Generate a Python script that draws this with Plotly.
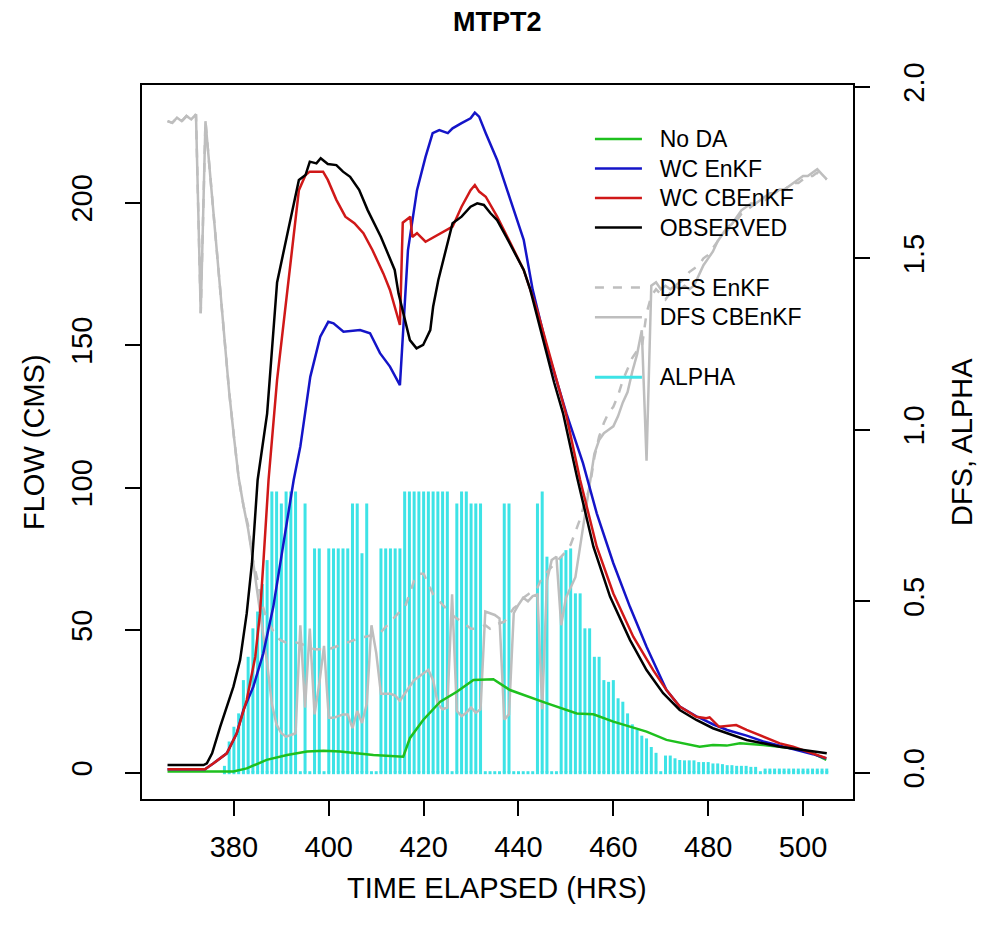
import plotly.graph_objects as go

# ---------------- data ----------------
t_obs = [366, 370, 373.6, 374.3, 375.4, 377.1, 379.9, 381.3, 382.7, 383.8, 384.5, 385.0, 387.0, 388.3,
         389.1, 391.3, 393.7, 395.1, 396.0, 397.4, 398.3, 399.8, 401.6, 403.0, 404.5, 406.4, 408.2,
         411.0, 413.9, 414.7, 415.7, 417.1, 418.5, 419.9, 421.4, 422.0, 423.1, 426.1, 428.0, 429.9,
         431.3, 432.7, 434.1, 435.5, 437.4, 439.3, 441.1, 442.5, 445, 447.5, 449.4, 452.3, 455.8,
         459.3, 463.5, 467.0, 470.5, 474.0, 477.5, 481.0, 488.1, 495.1, 505]
q_obs = [2.7, 2.7, 2.7, 3.3, 6.8, 16.1, 30.2, 39.5, 55.9, 73.5, 91, 102.7, 126, 155.3,
         172, 189.3, 208, 209.7, 214.4, 213.8, 215.6, 213.6, 213.2, 210.9, 209.1, 204.5, 197.4,
         188, 176.4, 168.2, 161.2, 151.8, 148.9, 150.1, 155.3, 163.5, 172.9, 192.8, 195.1, 198.6,
         199.8, 199.2, 196.3, 193.9, 188.1, 182.2, 176.4, 169.4, 153, 137, 126.1, 104, 79.3,
         61.8, 46.6, 36, 27.9, 22, 18.5, 15.6, 11.5, 9.1, 6.8]

t_cb = [366, 373.9, 375.7, 378.5, 380.6, 382.7, 384.5, 385.5, 386.2, 386.9, 387.3, 389.1, 391.3,
        393.7, 395.1, 396.0, 398.8, 399.8, 401.6, 403.5, 405.4, 407.3, 409.2, 411.5, 412.9, 415.0,
        415.6, 417.2, 417.6, 418.6, 420.4, 422.3, 424.2, 426.1, 428.0, 429.9, 430.8, 431.7, 433.1,
        435.5, 438.3, 441.1, 444, 447, 450, 453.0, 456.5, 460.0, 464.2, 468.4, 471.2, 474.0, 477.5,
        479.6, 480.3, 482.3, 485.9, 488.1, 491.6, 495.1, 497.9, 502.1, 504.9]
q_cb = [1.2, 1.2, 3.3, 6.8, 13.8, 25.5, 40.7, 55.9, 73.5, 91, 102.7, 137.8, 170,
        204.4, 209.7, 210.9, 210.9, 208, 201, 195.1, 192.8, 189.3, 183.4, 175.2, 169.4, 157.1,
        193, 195.1, 188, 189.3, 186.3, 188, 189.8, 191.6, 198.6, 204.4, 206.2, 203.9, 202.1,
        195.1, 185.8, 176.4, 162, 144, 126, 102.7, 79.3, 62.9, 47.7, 36, 29, 23.2, 19.6,
        19.1, 19.4, 16.1, 16.7, 15, 12.6, 10.3, 9.1, 6.8, 5.1]

t_enkf = [366, 373.9, 375.7, 378.5, 380.6, 382.0, 384.1, 386.2, 388.3, 389.8, 391.2, 392.6, 394.0,
          396.1, 398.2, 399.9, 401.0, 403.1, 406.6, 408.7, 410.8, 412.9, 415.0, 415.7, 416.4, 416.7,
          418.6, 420.4, 421.9, 423.3, 425.1, 426.1, 428.0, 429.9, 430.8, 431.7, 433.1, 435.5, 438.3,
          441.1, 443.0, 445.9, 450.1, 453.6, 456.5, 460.0, 463.5, 467.0, 471.2, 474.0, 477.5, 481,
          484, 488.1, 491.6, 495.1, 497.9, 502.1, 504.9]
q_enkf = [1.2, 1.2, 3.3, 6.8, 13.8, 22, 30.2, 41.9, 58.2, 73.5, 88, 102.7, 114.4,
          138.9, 153, 158.2, 157.7, 154.7, 155.3, 154.2, 147.2, 142.5, 136, 155.3, 172.9, 183.4,
          204.4, 216.1, 224.4, 225.5, 224.4, 226.1, 227.9, 229.6, 231.6, 230.2, 224.4, 215, 201,
          187, 169.4, 149.5, 126.1, 108.6, 91, 73.5, 58.2, 44.2, 29, 23.2, 19.8, 17,
          15, 13, 11, 9.5, 8.5, 6.5, 5]

t_noda = [366, 379.9, 382.7, 386.9, 391.2, 395.4, 398.9, 402.4, 409.4, 415.7, 417.1, 419.9, 423.5,
          427.0, 430.5, 433.3, 434.7, 438.2, 441.0, 445.9, 452.3, 455.8, 460.0, 467.0, 471.2, 478.2,
          481.0, 483.9, 486.7, 491.6, 497.9, 502.1, 504.9]
q_noda = [0.4, 0.4, 1.5, 4.5, 6.2, 7.4, 7.7, 7.4, 6.2, 5.6, 12.1, 18.5, 24.9,
          28.4, 32.5, 32.8, 32.8, 29, 27.3, 24.4, 20.8, 20.5, 17.9, 14.4, 11.5, 9.1,
          9.7, 9.5, 10.3, 9.7, 8.6, 6.8, 4.5]

hours_dfs = list(range(366, 506))
dfs_enkf = [1.90, 1.895, 1.91, 1.90, 1.915, 1.905, 1.92, 1.34, 1.90, 1.74,
            1.58, 1.42, 1.27, 1.11, 0.98, 0.86, 0.78, 0.72, 0.62, 0.56,
            0.49, 0.445, 0.42, 0.395, 0.385, 0.38, 0.38, 0.38, 0.377, 0.37,
            0.365, 0.36, 0.36, 0.358, 0.36, 0.365, 0.37, 0.375, 0.38, 0.385,
            0.39, 0.395, 0.397, 0.40, 0.405, 0.41, 0.425, 0.44, 0.455, 0.47,
            0.48, 0.52, 0.56, 0.58, 0.58, 0.55, 0.52, 0.505, 0.49, 0.475,
            0.46, 0.45, 0.44, 0.43, 0.42, 0.42, 0.426, 0.43, 0.42, 0.43,
            0.436, 0.44, 0.46, 0.48, 0.49, 0.51, 0.52, 0.53, 0.54, 0.57,
            0.585, 0.60, 0.615, 0.63, 0.645, 0.665, 0.70, 0.74, 0.79, 0.83,
            0.92, 0.98, 1.02, 1.05, 1.067, 1.10, 1.145, 1.18, 1.21, 1.23,
            1.24, 1.34, 1.39, 1.41, 1.395, 1.38, 1.40, 1.42, 1.43, 1.44,
            1.46, 1.47, 1.48, 1.50, 1.51, 1.53, 1.55, 1.57, 1.58, 1.60,
            1.61, 1.63, 1.64, 1.65, 1.66, 1.67, 1.67, 1.68, 1.69, 1.70,
            1.70, 1.71, 1.72, 1.72, 1.73, 1.74, 1.74, 1.75, 1.74, 1.73]
dfs_cbenkf = [1.90, 1.895, 1.91, 1.90, 1.915, 1.905, 1.92, 1.34, 1.90, 1.74,
              1.58, 1.42, 1.27, 1.11, 0.98, 0.86, 0.78, 0.71, 0.62, 0.52,
              0.42, 0.32, 0.20, 0.14, 0.115, 0.105, 0.11, 0.115, 0.43, 0.19,
              0.42, 0.17, 0.26, 0.37, 0.16, 0.16, 0.165, 0.17, 0.17, 0.13,
              0.18, 0.145, 0.20, 0.43, 0.35, 0.23, 0.23, 0.23, 0.225, 0.21,
              0.23, 0.25, 0.27, 0.28, 0.29, 0.30, 0.27, 0.20, 0.185, 0.19,
              0.52, 0.18, 0.165, 0.175, 0.19, 0.175, 0.185, 0.47, 0.465, 0.46,
              0.45, 0.155, 0.17, 0.465, 0.49, 0.51, 0.50, 0.515, 0.52, 0.185,
              0.56, 0.62, 0.63, 0.43, 0.51, 0.54, 0.57, 0.66, 0.75, 0.83,
              0.93, 0.97, 0.99, 1.00, 1.01, 1.04, 1.08, 1.11, 1.17, 1.22,
              1.29, 0.91, 1.42, 1.43, 1.41, 1.42, 1.41, 1.42, 1.41, 1.42,
              1.41, 1.42, 1.45, 1.48, 1.50, 1.52, 1.55, 1.57, 1.59, 1.60,
              1.62, 1.64, 1.65, 1.66, 1.66, 1.67, 1.68, 1.69, 1.69, 1.70,
              1.70, 1.71, 1.72, 1.73, 1.74, 1.74, 1.75, 1.76, 1.745, 1.73]

hours_alpha = list(range(378, 506))
alpha = [0.02, 0.091, 0.134, 0.173, 0.27, 0.338, 0.421, 0.47, 0.55, 0.62,
         0.82, 0.82, 0.785, 0.82, 0.82, 0.82, 0.0, 0.785, 0.0, 0.654,
         0.654, 0.0, 0.654, 0.654, 0.654, 0.654, 0.654, 0.785, 0.785, 0.64,
         0.785, 0.0, 0.0, 0.654, 0.654, 0.654, 0.654, 0.654, 0.82, 0.82,
         0.82, 0.82, 0.82, 0.82, 0.82, 0.82, 0.82, 0.82, 0.0, 0.785,
         0.82, 0.82, 0.785, 0.785, 0.785, 0.0, 0.0, 0.0, 0.0, 0.785,
         0.785, 0.0, 0.0, 0.0, 0.0, 0.0, 0.785, 0.82, 0.63, 0.0,
         0.0, 0.63, 0.649, 0.654, 0.523, 0.523, 0.421, 0.421, 0.338, 0.338,
         0.27, 0.265, 0.27, 0.217, 0.207, 0.173, 0.141, 0.125, 0.108, 0.10,
         0.075, 0.058, 0.0, 0.05, 0.05, 0.042, 0.037, 0.036, 0.036, 0.036,
         0.031, 0.031, 0.031, 0.027, 0.027, 0.025, 0.022, 0.022, 0.02, 0.02,
         0.02, 0.017, 0.017, 0.0, 0.012, 0.012, 0.012, 0.012, 0.012, 0.012,
         0.012, 0.012, 0.012, 0.012, 0.012, 0.012, 0.012, 0.012]

x_ticks = [380, 400, 420, 440, 460, 480, 500]
flow_ticks = [0, 50, 100, 150, 200]
dfs_ticks = [0.0, 0.5, 1.0, 1.5, 2.0]
dfs_tick_text = ["0.0", "0.5", "1.0", "1.5", "2.0"]

assert len(dfs_enkf) == len(hours_dfs) == len(dfs_cbenkf)
assert len(alpha) == len(hours_alpha)

# ---------------- figure ----------------
FONT = "Liberation Sans, Arial, Helvetica, sans-serif"
CYAN = "#3DE3E6"
GRAY = "#BEBEBE"
NB = "\u00a0\u00a0"


def lname(s):
    return '<span style="font-size:23px">' + NB + s + "</span>"


fig = go.Figure()

# alpha as vertical line segments (R type='h')
ax_x, ax_y = [], []
for h, a in zip(hours_alpha, alpha):
    ax_x += [h, h, None]
    ax_y += [0, a, None]

fig.add_trace(go.Scatter(x=ax_x, y=ax_y, mode="lines", name=lname("ALPHA"),
                         line=dict(color=CYAN, width=3), yaxis="y",
                         legendgroup="c", legendrank=7))
fig.add_trace(go.Scatter(x=hours_alpha, y=[0] * len(hours_alpha), mode="markers",
                         marker=dict(symbol="square", size=3, color=CYAN),
                         showlegend=False, yaxis="y", hoverinfo="skip"))

fig.add_trace(go.Scatter(x=hours_dfs, y=dfs_enkf, mode="lines", name=lname("DFS EnKF"),
                         line=dict(color=GRAY, width=2.5, dash="dash"), yaxis="y",
                         legendgroup="b", legendrank=5))
fig.add_trace(go.Scatter(x=hours_dfs, y=dfs_cbenkf, mode="lines", name=lname("DFS CBEnKF"),
                         line=dict(color=GRAY, width=2.5), yaxis="y",
                         legendgroup="b", legendrank=6))

fig.add_trace(go.Scatter(x=t_noda, y=q_noda, mode="lines", name=lname("No DA"),
                         line=dict(color="#1EC01E", width=2.5), yaxis="y2",
                         legendgroup="a", legendrank=1))
fig.add_trace(go.Scatter(x=t_enkf, y=q_enkf, mode="lines", name=lname("WC EnKF"),
                         line=dict(color="#1414C8", width=2.5), yaxis="y2",
                         legendgroup="a", legendrank=2))
fig.add_trace(go.Scatter(x=t_cb, y=q_cb, mode="lines", name=lname("WC CBEnKF"),
                         line=dict(color="#D01818", width=2.5), yaxis="y2",
                         legendgroup="a", legendrank=3))
fig.add_trace(go.Scatter(x=t_obs, y=q_obs, mode="lines", name=lname("OBSERVED"),
                         line=dict(color="black", width=2.5), yaxis="y2",
                         legendgroup="a", legendrank=4))

axis_common = dict(showgrid=False, zeroline=False, showline=True, linecolor="black",
                   linewidth=2, ticks="outside", ticklen=15, tickwidth=2, tickcolor="black",
                   tickfont=dict(family=FONT, size=29, color="black"))

fig.update_layout(
    width=982, height=926,
    margin=dict(l=142, r=129, t=85, b=127),
    paper_bgcolor="white", plot_bgcolor="white",
    font=dict(family=FONT, color="black"),
    showlegend=True,
    legend=dict(x=0.630, y=0.952, xanchor="left", yanchor="top",
                bgcolor="rgba(0,0,0,0)", borderwidth=0,
                font=dict(family=FONT, size=20.4, color="black"),
                traceorder="grouped", tracegroupgap=30.5, itemwidth=47),
    xaxis=dict(range=[360.62, 510.53], tickvals=x_ticks, mirror=True,
               ticklabelstandoff=6, **axis_common),
    yaxis=dict(range=[-0.0767, 2.0055], side="right", tickvals=dfs_ticks,
               ticktext=dfs_tick_text, tickangle=-90, ticklabelstandoff=19, **axis_common),
    yaxis2=dict(range=[-9.23, 241.3], side="left", overlaying="y", tickvals=flow_ticks,
                tickangle=-90, ticklabelstandoff=21, **axis_common),
)

pw, ph = 982 - 142 - 129, 926 - 85 - 127


def px_to_paper(px, py):
    return (px - 142) / pw, (926 - 127 - py) / ph


titles = [
    ("<b>MTPT2</b>", 497, 22, 27, 0),
    ("TIME ELAPSED (HRS)", 497, 888, 29, 0),
    ("FLOW (CMS)", 34, 442, 29, -90),
    ("DFS, ALPHA", 962, 442, 29, -90),
]
for text, cx, cy, size, ang in titles:
    x, y = px_to_paper(cx, cy)
    fig.add_annotation(text=text, x=x, y=y, xref="paper", yref="paper", showarrow=False,
                       xanchor="center", yanchor="middle", textangle=ang,
                       font=dict(family=FONT, size=size, color="black"))

fig.write_html("out.html")
